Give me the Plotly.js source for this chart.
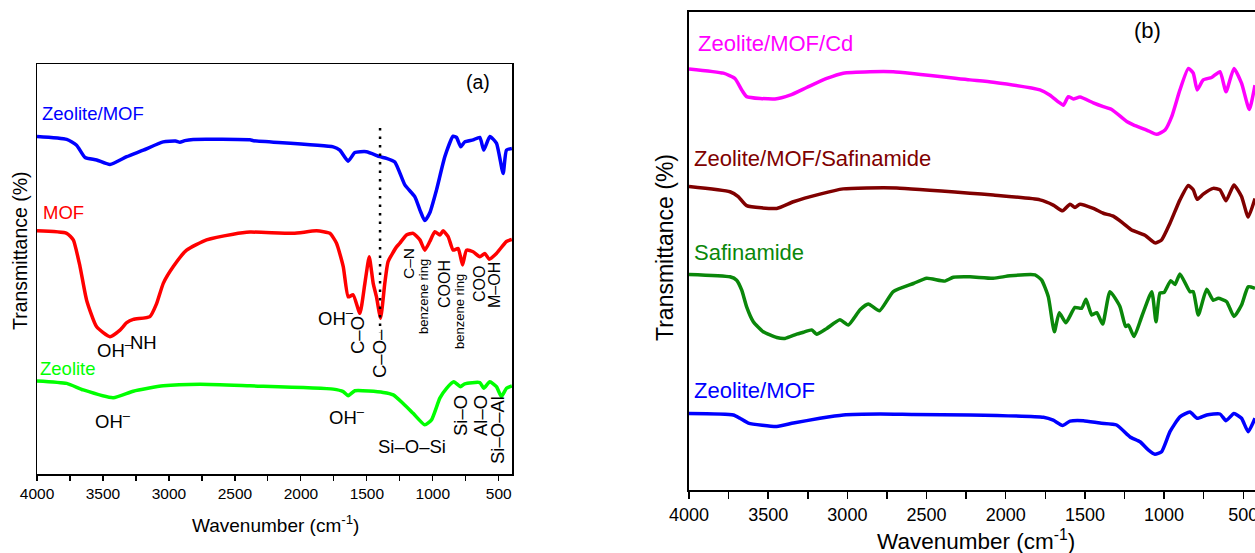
<!DOCTYPE html>
<html>
<head>
<meta charset="utf-8">
<script src="https://cdn.plot.ly/plotly-3.0.1.min.js"></script>
<style>
html,body{margin:0;padding:0;background:#fff;}
#chart{width:1255px;height:553px;}
</style>
</head>
<body>
<div id="chart"></div>
<script>
// ---------- Panel (a) data (wavenumber, transmittance offset a.u.) ----------
const wnA_zm = [4000,3775,3700,3636,3548,3447,3320,3194,3043,2950,2917,2880,2816,2386,2360,1755,1705,1642,1591,1503,1402,1351,1288,1212,1136,1098,1061,1023,972,909,846,821,788,758,695,644,614,568,518,467,442,401];
const tA_zm  = [82.3,81.6,80.2,77.2,76.6,75.5,77.4,79.0,81.0,81.2,80.9,81.3,81.6,81.5,81.3,79.8,79.0,76.3,78.4,78.6,77.4,77.0,76.1,70.5,67.6,64.4,61.8,63.7,69.3,77.4,82.4,82.1,79.8,81.0,81.5,82.1,79.0,82.3,80.7,73.3,79.0,79.4];

const wnA_mof = [4000,3775,3725,3674,3624,3548,3447,3371,3320,3270,3144,3093,3043,2967,2866,2715,2513,2386,2058,1881,1780,1730,1679,1641,1604,1553,1515,1482,1452,1427,1396,1364,1339,1275,1250,1200,1149,1098,1061,1023,985,947,922,884,846,808,775,745,695,644,606,573,518,442,401];
const tA_mof  = [59.3,58.7,57.1,50.6,42.4,35.9,33.5,35.1,36.9,37.7,38.4,41.6,46.5,50.6,54.6,57.1,58.5,59.0,58.7,59.3,58.7,56.3,50.6,43.2,43.7,39.2,46.5,53.0,46.5,43.2,38.0,46.5,51.8,55.4,56.3,58.3,58.7,57.1,54.6,56.7,59.1,58.3,59.3,57.9,54.6,55.0,51.0,54.6,54.2,53.0,53.8,52.4,53.8,56.7,57.2];

const wnA_zeo = [4000,3775,3649,3422,3270,3043,2765,2386,1755,1679,1641,1591,1376,1300,1225,1149,1061,1010,947,896,841,790,758,644,614,568,518,480,442,401];
const tA_zeo  = [22.7,22.1,20.5,18.6,20.2,21.5,21.9,21.5,20.7,20.1,19.1,20.3,19.9,19.3,17.2,14.8,12.0,13.2,18.5,20.9,22.5,21.3,22.0,22.3,20.9,22.5,21.3,18.9,20.9,21.5];

// reference line (C–O band)
const refLineWn = [1400, 1400];
const refLineT  = [84.4, 34.6];

// ---------- Panel (b) data ----------
const wnB_cd = [4000,3783,3710,3667,3636,3457,3362,3257,3130,3026,2857,2710,2226,2079,1784,1720,1668,1636,1605,1573,1531,1447,1384,1331,1236,1194,1110,1047,994,952,900,847,816,791,753,700,647,609,559,511,462,426];
const tB_cd  = [88.1,87.2,86.1,83.7,82.3,81.8,82.6,84.2,86.1,87.2,87.5,87.5,85.8,85.3,83.7,82.6,81.2,80.5,82.3,81.8,82.2,81.0,80.2,79.6,77.1,76.4,75.3,74.4,75.3,78.1,83.7,88.2,87.2,83.7,85.8,86.3,87.5,83.3,88.2,85.1,79.6,84.7];

const wnB_saf_comp = [4000,3741,3689,3636,3446,3341,3173,3026,2878,2689,2226,2079,1784,1700,1641,1594,1563,1531,1447,1384,1321,1258,1205,1121,1058,1016,963,900,847,816,791,753,690,647,609,559,511,469,426];
const tB_saf_comp  = [63.5,62.4,61.4,59.5,58.9,60.3,61.9,63.0,63.2,63.2,62.1,61.7,60.7,59.6,58.4,59.8,59.1,59.8,58.9,57.9,57.3,55.8,54.4,53.3,51.7,52.3,55.8,60.7,63.7,62.8,60.8,61.9,63.1,62.8,60.5,63.8,61.4,57.1,61.0];

const wnB_saf = [4000,3741,3699,3667,3636,3594,3531,3446,3394,3320,3278,3225,3194,3130,3047,2994,2920,2868,2797,2710,2583,2499,2384,2331,2226,2079,1973,1815,1773,1731,1693,1662,1620,1563,1521,1493,1457,1425,1388,1342,1279,1243,1225,1190,1141,1078,1051,1026,1001,958,931,900,837,816,784,731,690,658,605,559,511,469,426];
const tB_saf  = [45.1,44.6,43.9,41.8,38.3,35.2,33.1,31.9,31.7,32.6,33.0,33.5,32.6,33.8,35.6,34.5,37.7,38.9,37.5,41.5,43.2,44.3,43.7,44.5,44.6,44.3,44.8,45.0,43.9,40.4,33.1,37.1,35.0,38.2,38.0,39.9,36.6,37.1,34.7,41.5,38.4,34.2,34.5,32.1,36.3,41.5,35.2,41.2,41.3,43.8,43.0,45.2,41.5,41.5,36.6,42.0,39.7,40.1,39.4,36.3,38.7,42.5,42.2];

const wnB_zm = [4000,3720,3678,3625,3446,3341,3173,3026,2794,2584,2226,1762,1700,1641,1594,1510,1405,1300,1215,1152,1100,1058,1016,963,900,837,791,731,647,609,559,511,469,426];
const tB_zm  = [16.0,15.7,15.0,14.0,13.3,14.0,15.0,15.7,15.9,15.8,15.7,15.2,14.6,13.5,14.4,14.5,14.0,13.6,11.1,10.1,8.4,7.5,8.0,12.2,15.3,16.3,15.0,15.7,15.9,14.5,16.0,15.0,12.2,15.0];

const tickValsMajor = [4000,3500,3000,2500,2000,1500,1000,500];
const tickTextMajor = ['4000','3500','3000','2500','2000','1500','1000','500'];
const tickValsMinor = [3750,3250,2750,2250,1750,1250,750];

// ---------- helpers ----------
const W = 1255, H = 553;
const FONT = 'Liberation Sans, Arial, sans-serif';
const px = x => x / W;
const py = y => 1 - y / H;

function line(x, y, color, xa, ya, width) {
  return {x: x, y: y, xaxis: xa, yaxis: ya, type: 'scatter', mode: 'lines',
    line: {color: color, width: width, shape: 'spline', smoothing: 0.5},
    hoverinfo: 'skip', showlegend: false};
}

const traces = [
  line(wnA_zm, tA_zm, '#0000ff', 'x', 'y', 3.5),
  line(wnA_mof, tA_mof, '#ff0000', 'x', 'y', 3.5),
  line(wnA_zeo, tA_zeo, '#00ff00', 'x', 'y', 3.5),
  {x: refLineWn, y: refLineT, xaxis: 'x', yaxis: 'y', type: 'scatter', mode: 'lines',
    line: {color: '#000', width: 2.5, dash: '2.5px,6px'}, hoverinfo: 'skip', showlegend: false},
  line(wnB_cd, tB_cd, '#ff00ff', 'x2', 'y2', 3.5),
  line(wnB_saf_comp, tB_saf_comp, '#800000', 'x2', 'y2', 3.5),
  line(wnB_saf, tB_saf, '#0a870a', 'x2', 'y2', 3.5),
  line(wnB_zm, tB_zm, '#0000ff', 'x2', 'y2', 3.5)
];

function ann(text, x, y, size, color, opts) {
  return Object.assign({text: text, x: px(x), y: py(y), xref: 'paper', yref: 'paper',
    xanchor: 'center', yanchor: 'middle', showarrow: false,
    font: {family: FONT, size: size, color: color || '#000'}}, opts || {});
}
const L = {xanchor: 'left'};
const R = {textangle: -90};

const annotations = [
  // panel (a)
  ann('(a)', 478, 82, 19.5),
  ann('Zeolite/MOF', 40, 113, 18.5, '#0000ff', L),
  ann('MOF', 41, 213, 18.5, '#ff0000', L),
  ann('Zeolite', 38, 368, 18.5, '#00ff00', L),
  ann('OH<sup>–</sup>', 95, 349, 18.5, '#000', L),
  ann('NH', 128, 342, 18.5, '#000', L),
  ann('OH<sup>–</sup>', 316, 317, 18.5, '#000', L),
  ann('C–O', 357, 335, 18.5, '#000', R),
  ann('C–O–', 379, 354, 18.5, '#000', R),
  ann('C–N', 408, 264, 15.5, '#000', R),
  ann('benzene ring', 423, 297, 13, '#000', R),
  ann('COOH', 444, 284, 16, '#000', R),
  ann('benzene ring', 459, 312, 13, '#000', R),
  ann('COO', 479, 284, 16, '#000', R),
  ann('M–OH', 494, 285, 16, '#000', R),
  ann('OH<sup>–</sup>', 113, 420, 18.5),
  ann('OH<sup>–</sup>', 347, 416, 18.5),
  ann('Si–O–Si', 412, 446, 18.5),
  ann('Si–O', 460, 416, 18.5, '#000', R),
  ann('Al–O', 480, 416, 18.5, '#000', R),
  ann('Si–O–Al', 497, 430, 18.5, '#000', R),
  ann('Transmittance (%)', 20, 251, 19.5, '#000', R),
  ann('Wavenumber (cm<sup>-1</sup>)', 275, 524, 19),
  // panel (b)
  ann('(b)', 1147, 31, 22),
  ann('Zeolite/MOF/Cd', 696, 43, 22, '#ff00ff', L),
  ann('Zeolite/MOF/Safinamide', 692, 158, 22, '#800000', L),
  ann('Safinamide', 692, 252, 22, '#0a870a', L),
  ann('Zeolite/MOF', 692, 390, 22, '#0000ff', L),
  ann('Transmittance (%)', 665, 248, 23, '#000', R),
  ann('Wavenumber (cm<sup>-1</sup>)', 976, 540, 22.5)
];

const axBase = {
  showgrid: false, zeroline: false, showline: true, linecolor: '#000',
  tickcolor: '#000', ticks: 'outside', mirror: true,
  tickvals: tickValsMajor, ticktext: tickTextMajor, tickmode: 'array',
  ticklabeloverflow: 'allow'
};

const layout = {
  width: W, height: H,
  margin: {l: 0, r: 0, t: 0, b: 0},
  paper_bgcolor: '#fff', plot_bgcolor: '#fff',
  showlegend: false,
  font: {family: FONT, color: '#000'},
  xaxis: Object.assign({}, axBase, {
    domain: [px(37), px(512)], anchor: 'y', range: [4000, 400],
    linewidth: 1.5, ticklen: 5, tickwidth: 1.2,
    tickfont: {family: FONT, size: 15.5, color: '#000'},
    minor: {tickvals: tickValsMinor, ticks: 'outside', ticklen: 5, tickwidth: 1.2, tickcolor: '#000'}
  }),
  yaxis: {
    domain: [py(474), py(64)], anchor: 'x', range: [0, 100],
    showgrid: false, zeroline: false, showline: true, mirror: true,
    linecolor: '#000', linewidth: 1.5, ticks: '', showticklabels: false
  },
  xaxis2: Object.assign({}, axBase, {
    domain: [px(689), 1], anchor: 'y2', range: [4000, 426],
    linewidth: 2, ticklen: 7, tickwidth: 1.5,
    tickfont: {family: FONT, size: 18, color: '#000'},
    minor: {tickvals: tickValsMinor, ticks: 'outside', ticklen: 7, tickwidth: 1.5, tickcolor: '#000'}
  }),
  yaxis2: {
    domain: [py(490), py(12)], anchor: 'x2', range: [0, 100],
    showgrid: false, zeroline: false, showline: true, mirror: false,
    linecolor: '#000', linewidth: 2, ticks: '', showticklabels: false
  },
  annotations: annotations
};

Plotly.newPlot('chart', traces, layout, {staticPlot: true, displayModeBar: false});
</script>
</body>
</html>
